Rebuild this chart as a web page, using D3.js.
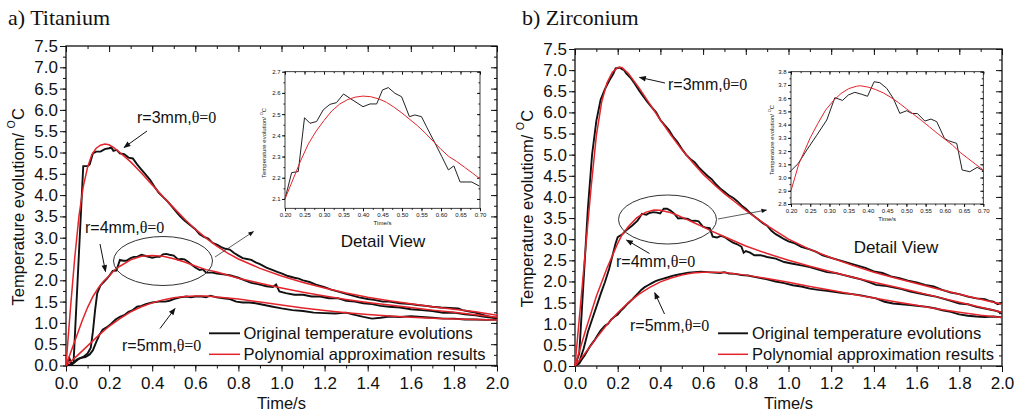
<!DOCTYPE html>
<html>
<head>
<meta charset="utf-8">
<script src="https://cdn.jsdelivr.net/npm/d3@7"></script>
<style>
  body { margin: 0; background: #fff; }
  svg { display: block; }
  text { font-family: "Liberation Sans", Arial, sans-serif; fill: #111; }
  .serif { font-family: "Liberation Serif", "Times New Roman", serif; }
</style>
</head>
<body>
<div id="chart"></div>
<script>
// ---- data: [time (s), temperature rise (degC)] ----
const tiBlack3 = [[0,0],[0.015,0.18],[0.027,0.02],[0.035,0.06],[0.08,4.68],[0.1,4.68],[0.11,4.72],[0.125,4.98],[0.14,5.02],[0.16,5.02],[0.18,5.08],[0.2,5.1],[0.21,5.12],[0.22,5.04],[0.235,5.06],[0.25,4.98],[0.27,4.96],[0.29,4.88],[0.31,4.86],[0.33,4.72],[0.35,4.6],[0.37,4.48],[0.39,4.36],[0.41,4.2],[0.43,4.06],[0.45,3.96],[0.47,3.86],[0.49,3.74],[0.51,3.62],[0.53,3.5],[0.55,3.4],[0.57,3.32],[0.6,3.2],[0.62,3.08],[0.64,3.02],[0.66,2.98],[0.68,2.88],[0.7,2.84],[0.72,2.78],[0.74,2.74],[0.76,2.72],[0.78,2.64],[0.8,2.58],[0.82,2.52],[0.84,2.5],[0.86,2.48],[0.88,2.42],[0.9,2.38],[0.93,2.3],[0.96,2.24],[0.98,2.2],[1.0,2.16],[1.03,2.1],[1.06,2.06],[1.08,2.04],[1.1,2.0],[1.13,1.96],[1.16,1.9],[1.2,1.84],[1.23,1.78],[1.26,1.74],[1.3,1.68],[1.33,1.64],[1.36,1.6],[1.4,1.56],[1.43,1.54],[1.47,1.5],[1.5,1.5],[1.55,1.46],[1.6,1.44],[1.63,1.42],[1.67,1.4],[1.7,1.38],[1.74,1.36],[1.78,1.35],[1.82,1.34],[1.84,1.3],[1.86,1.28],[1.9,1.24],[1.94,1.18],[1.97,1.14],[2.0,1.1]];
const tiRed3 = [[0,0],[0.02,1.3],[0.04,2.5],[0.06,3.5],[0.08,4.2],[0.1,4.65],[0.12,4.95],[0.14,5.1],[0.16,5.17],[0.18,5.2],[0.2,5.18],[0.22,5.12],[0.25,5.0],[0.3,4.78],[0.35,4.52],[0.4,4.24],[0.45,3.96],[0.5,3.7],[0.55,3.44],[0.6,3.2],[0.65,2.99],[0.7,2.8],[0.75,2.64],[0.8,2.5],[0.9,2.28],[1.0,2.1],[1.1,1.95],[1.2,1.82],[1.3,1.7],[1.4,1.6],[1.5,1.52],[1.6,1.45],[1.7,1.38],[1.8,1.32],[1.9,1.26],[2.0,1.18]];
const tiBlack4 = [[0,0],[0.02,0.02],[0.04,0.08],[0.06,0.16],[0.08,0.2],[0.1,0.28],[0.115,0.42],[0.125,0.8],[0.135,1.3],[0.145,1.7],[0.16,1.88],[0.175,1.96],[0.19,2.04],[0.2,2.1],[0.217,2.22],[0.234,2.23],[0.25,2.48],[0.265,2.46],[0.28,2.46],[0.3,2.52],[0.315,2.55],[0.33,2.55],[0.35,2.6],[0.37,2.57],[0.4,2.53],[0.42,2.55],[0.435,2.55],[0.45,2.61],[0.465,2.62],[0.48,2.6],[0.5,2.58],[0.52,2.49],[0.535,2.5],[0.55,2.49],[0.565,2.44],[0.585,2.36],[0.6,2.3],[0.62,2.24],[0.635,2.26],[0.65,2.18],[0.68,2.18],[0.7,2.16],[0.73,2.14],[0.76,2.12],[0.8,2.06],[0.83,2.0],[0.86,1.94],[0.9,1.9],[0.93,1.86],[0.96,1.84],[0.975,1.9],[0.99,1.74],[1.02,1.7],[1.06,1.66],[1.1,1.66],[1.14,1.62],[1.18,1.62],[1.22,1.58],[1.26,1.58],[1.3,1.52],[1.34,1.5],[1.38,1.46],[1.42,1.44],[1.46,1.4],[1.5,1.38],[1.55,1.36],[1.6,1.32],[1.65,1.3],[1.7,1.28],[1.75,1.24],[1.8,1.24],[1.85,1.2],[1.9,1.18],[1.95,1.14],[2.0,1.12]];
const tiRed4 = [[0,0],[0.025,0.35],[0.05,0.7],[0.075,1.05],[0.1,1.36],[0.125,1.62],[0.15,1.82],[0.175,1.98],[0.2,2.1],[0.225,2.24],[0.25,2.33],[0.3,2.48],[0.35,2.565],[0.4,2.585],[0.45,2.565],[0.5,2.505],[0.55,2.43],[0.6,2.334],[0.65,2.25],[0.7,2.195],[0.8,2.05],[0.9,1.93],[1.0,1.82],[1.1,1.72],[1.2,1.63],[1.3,1.55],[1.4,1.48],[1.5,1.42],[1.6,1.36],[1.7,1.3],[1.8,1.25],[1.9,1.19],[2.0,1.13]];
const tiBlack5 = [[0,0],[0.03,0.04],[0.05,0.14],[0.07,0.18],[0.09,0.2],[0.11,0.26],[0.125,0.36],[0.14,0.55],[0.155,0.72],[0.17,0.84],[0.19,0.9],[0.21,0.98],[0.23,1.08],[0.25,1.14],[0.27,1.18],[0.29,1.26],[0.31,1.3],[0.33,1.38],[0.35,1.4],[0.37,1.44],[0.4,1.48],[0.43,1.5],[0.46,1.5],[0.48,1.52],[0.5,1.56],[0.53,1.6],[0.56,1.62],[0.58,1.6],[0.6,1.62],[0.63,1.62],[0.65,1.6],[0.67,1.64],[0.7,1.6],[0.73,1.58],[0.76,1.56],[0.79,1.5],[0.82,1.48],[0.85,1.48],[0.88,1.46],[0.92,1.42],[0.96,1.38],[1.0,1.34],[1.05,1.3],[1.1,1.28],[1.15,1.24],[1.2,1.23],[1.25,1.22],[1.3,1.24],[1.33,1.2],[1.38,1.14],[1.42,1.1],[1.46,1.12],[1.5,1.15],[1.55,1.14],[1.6,1.16],[1.65,1.14],[1.7,1.12],[1.75,1.1],[1.8,1.1],[1.85,1.08],[1.9,1.08],[1.95,1.07],[2.0,1.08]];
const tiRed5 = [[0,0],[0.05,0.22],[0.1,0.46],[0.15,0.7],[0.2,0.92],[0.25,1.1],[0.3,1.26],[0.35,1.38],[0.4,1.47],[0.45,1.54],[0.5,1.59],[0.55,1.62],[0.6,1.63],[0.65,1.63],[0.7,1.61],[0.8,1.56],[0.9,1.49],[1.0,1.42],[1.1,1.35],[1.2,1.29],[1.3,1.24],[1.4,1.2],[1.5,1.16],[1.6,1.13],[1.7,1.11],[1.8,1.09],[1.9,1.08],[2.0,1.07]];

const zrBlack3 = [[0,0],[0.02,0.3],[0.04,2.0],[0.06,3.7],[0.08,5.0],[0.1,5.8],[0.12,6.3],[0.14,6.55],[0.16,6.75],[0.18,6.92],[0.19,7.04],[0.2,7.05],[0.21,7.06],[0.22,7.02],[0.23,7.0],[0.24,6.92],[0.26,6.82],[0.28,6.68],[0.3,6.52],[0.32,6.38],[0.34,6.24],[0.36,6.12],[0.38,6.0],[0.4,5.82],[0.42,5.7],[0.44,5.58],[0.46,5.42],[0.48,5.3],[0.5,5.14],[0.52,5.0],[0.54,4.9],[0.56,4.82],[0.58,4.7],[0.6,4.6],[0.62,4.5],[0.64,4.42],[0.66,4.3],[0.68,4.2],[0.7,4.12],[0.72,4.04],[0.74,3.98],[0.76,3.9],[0.78,3.8],[0.8,3.72],[0.82,3.62],[0.84,3.54],[0.86,3.46],[0.88,3.38],[0.9,3.32],[0.92,3.2],[0.94,3.12],[0.96,3.06],[0.98,3.0],[1.0,2.95],[1.03,2.9],[1.06,2.82],[1.1,2.76],[1.13,2.7],[1.16,2.62],[1.2,2.56],[1.24,2.5],[1.28,2.44],[1.32,2.38],[1.36,2.32],[1.4,2.24],[1.44,2.2],[1.48,2.12],[1.52,2.08],[1.56,2.02],[1.6,1.98],[1.64,1.92],[1.68,1.88],[1.72,1.8],[1.76,1.74],[1.8,1.7],[1.84,1.64],[1.88,1.6],[1.92,1.58],[1.94,1.54],[1.96,1.52],[1.98,1.46],[2.0,1.5]];
const zrRed3 = [[0,0],[0.025,1.4],[0.05,2.8],[0.075,4.2],[0.1,5.45],[0.125,6.25],[0.15,6.7],[0.175,6.95],[0.2,7.06],[0.22,7.06],[0.25,6.92],[0.3,6.58],[0.35,6.2],[0.4,5.82],[0.45,5.46],[0.5,5.12],[0.55,4.82],[0.6,4.54],[0.65,4.3],[0.7,4.08],[0.75,3.88],[0.8,3.68],[0.85,3.5],[0.9,3.32],[1.0,3.0],[1.1,2.76],[1.2,2.56],[1.3,2.38],[1.4,2.22],[1.5,2.08],[1.6,1.95],[1.7,1.82],[1.8,1.7],[1.9,1.58],[2.0,1.46]];
const zrBlack4 = [[0,0],[0.02,0.1],[0.04,0.4],[0.06,0.8],[0.08,1.1],[0.1,1.4],[0.12,1.7],[0.14,1.98],[0.16,2.3],[0.18,2.7],[0.19,2.9],[0.2,3.05],[0.22,3.11],[0.24,3.21],[0.267,3.32],[0.293,3.44],[0.314,3.6],[0.334,3.58],[0.349,3.62],[0.366,3.64],[0.384,3.63],[0.399,3.61],[0.416,3.72],[0.431,3.72],[0.449,3.67],[0.466,3.6],[0.483,3.49],[0.501,3.5],[0.514,3.49],[0.529,3.48],[0.548,3.43],[0.564,3.44],[0.579,3.42],[0.599,3.3],[0.609,3.28],[0.631,3.26],[0.645,3.06],[0.665,3.04],[0.684,3.08],[0.7,3.05],[0.72,2.98],[0.74,2.92],[0.76,2.88],[0.78,2.82],[0.79,2.68],[0.8,2.72],[0.82,2.68],[0.84,2.62],[0.87,2.62],[0.9,2.58],[0.94,2.54],[0.98,2.46],[1.02,2.42],[1.06,2.38],[1.1,2.34],[1.14,2.28],[1.18,2.22],[1.22,2.2],[1.26,2.15],[1.3,2.1],[1.34,2.05],[1.38,1.98],[1.41,1.92],[1.45,1.9],[1.49,1.86],[1.53,1.82],[1.57,1.76],[1.61,1.72],[1.65,1.68],[1.69,1.64],[1.72,1.6],[1.76,1.54],[1.8,1.48],[1.84,1.46],[1.88,1.4],[1.92,1.36],[1.96,1.32],[2.0,1.26]];
const zrRed4 = [[0,0],[0.05,0.85],[0.1,1.65],[0.15,2.32],[0.2,2.9],[0.22,3.1],[0.25,3.3],[0.29,3.51],[0.33,3.635],[0.37,3.69],[0.4,3.684],[0.44,3.64],[0.48,3.565],[0.52,3.475],[0.56,3.383],[0.6,3.29],[0.64,3.19],[0.7,3.057],[0.8,2.84],[0.9,2.66],[1.0,2.5],[1.1,2.36],[1.2,2.23],[1.3,2.1],[1.4,1.98],[1.5,1.87],[1.6,1.75],[1.7,1.63],[1.8,1.51],[1.9,1.39],[2.0,1.27]];
const zrBlack5 = [[0,0],[0.02,0.06],[0.03,0.14],[0.045,0.25],[0.06,0.38],[0.075,0.5],[0.09,0.6],[0.105,0.72],[0.12,0.84],[0.14,0.95],[0.155,1.0],[0.17,1.1],[0.186,1.17],[0.2,1.22],[0.217,1.32],[0.23,1.38],[0.248,1.48],[0.265,1.56],[0.28,1.64],[0.295,1.72],[0.31,1.8],[0.325,1.86],[0.342,1.91],[0.36,1.96],[0.375,2.0],[0.39,2.03],[0.41,2.06],[0.436,2.1],[0.46,2.14],[0.48,2.16],[0.5,2.18],[0.53,2.21],[0.56,2.22],[0.59,2.23],[0.62,2.22],[0.65,2.21],[0.68,2.2],[0.7,2.22],[0.72,2.19],[0.75,2.18],[0.78,2.15],[0.81,2.14],[0.84,2.11],[0.87,2.08],[0.9,2.05],[0.94,2.0],[0.98,1.96],[1.02,1.91],[1.06,1.88],[1.1,1.83],[1.14,1.8],[1.18,1.78],[1.22,1.75],[1.26,1.72],[1.3,1.7],[1.34,1.67],[1.38,1.63],[1.41,1.6],[1.45,1.52],[1.49,1.48],[1.53,1.46],[1.57,1.44],[1.61,1.42],[1.65,1.4],[1.69,1.36],[1.72,1.32],[1.76,1.28],[1.8,1.22],[1.84,1.19],[1.88,1.17],[1.92,1.16],[1.96,1.17],[2.0,1.15]];
const zrRed5 = [[0,0],[0.05,0.32],[0.1,0.66],[0.15,0.98],[0.2,1.26],[0.25,1.5],[0.3,1.7],[0.35,1.86],[0.4,1.99],[0.45,2.08],[0.5,2.15],[0.55,2.2],[0.6,2.22],[0.65,2.22],[0.7,2.21],[0.8,2.15],[0.9,2.07],[1.0,1.98],[1.1,1.88],[1.2,1.79],[1.3,1.7],[1.4,1.61],[1.5,1.52],[1.6,1.44],[1.7,1.35],[1.8,1.27],[1.9,1.2],[2.0,1.15]];

// detail view (r=4mm, 0.2-0.7 s)
const tiDetailBlack = [[0.2,2.1],[0.217,2.224],[0.234,2.229],[0.25,2.483],[0.264,2.457],[0.281,2.465],[0.298,2.52],[0.315,2.546],[0.332,2.554],[0.35,2.595],[0.367,2.574],[0.4,2.535],[0.418,2.548],[0.435,2.548],[0.45,2.614],[0.465,2.625],[0.482,2.598],[0.499,2.582],[0.519,2.488],[0.533,2.496],[0.55,2.488],[0.563,2.44],[0.585,2.362],[0.602,2.3],[0.619,2.237],[0.633,2.256],[0.649,2.18],[0.679,2.18],[0.698,2.161]];
const tiDetailRed = [[0.2,2.1],[0.22,2.19],[0.24,2.28],[0.26,2.36],[0.28,2.42],[0.3,2.47],[0.32,2.515],[0.34,2.547],[0.36,2.568],[0.38,2.58],[0.4,2.585],[0.42,2.582],[0.44,2.572],[0.46,2.556],[0.48,2.532],[0.5,2.505],[0.52,2.475],[0.54,2.445],[0.56,2.41],[0.58,2.372],[0.6,2.334],[0.62,2.3],[0.64,2.277],[0.66,2.25],[0.68,2.223],[0.7,2.195]];
const zrDetailBlack = [[0.2,3.052],[0.219,3.107],[0.241,3.208],[0.267,3.32],[0.293,3.435],[0.314,3.604],[0.334,3.583],[0.349,3.624],[0.366,3.644],[0.384,3.629],[0.399,3.614],[0.416,3.724],[0.431,3.717],[0.449,3.674],[0.466,3.598],[0.483,3.485],[0.501,3.505],[0.514,3.485],[0.529,3.483],[0.548,3.427],[0.564,3.442],[0.579,3.422],[0.599,3.296],[0.609,3.279],[0.631,3.258],[0.645,3.057],[0.665,3.044],[0.684,3.077],[0.7,3.052]];
const zrDetailRed = [[0.2,2.9],[0.21,3.0],[0.22,3.1],[0.235,3.2],[0.25,3.3],[0.27,3.41],[0.29,3.51],[0.31,3.58],[0.33,3.635],[0.35,3.672],[0.37,3.69],[0.38,3.694],[0.4,3.684],[0.42,3.665],[0.44,3.64],[0.46,3.605],[0.48,3.565],[0.5,3.52],[0.52,3.475],[0.54,3.43],[0.56,3.383],[0.58,3.335],[0.6,3.29],[0.62,3.245],[0.64,3.19],[0.66,3.145],[0.68,3.1],[0.7,3.057]];

// ticks
const xTicks = d3.range(0, 2.01, 0.2);
const xMinor = d3.range(0, 2.01, 0.1);
const yTicks = d3.range(0, 7.51, 0.5);
const yMinor = d3.range(0, 7.51, 0.25);
const detailXTicks = d3.range(0.2, 0.701, 0.05);
const detailXMinor = d3.range(0.2, 0.701, 0.025);
const tiDetailYTicks = [2.1, 2.2, 2.3, 2.4, 2.5, 2.6, 2.7];
const zrDetailYTicks = [2.8, 2.9, 3.0, 3.1, 3.2, 3.3, 3.4, 3.5, 3.6, 3.7, 3.8];

const legendLabels = ['Original temperature evolutions', 'Polynomial approximation results'];
const BLACK = '#111';
const RED = '#e3242b';

const svg = d3.select('#chart')
  .append('svg')
  .attr('width', 1017)
  .attr('height', 411);

svg.append('defs').append('marker')
  .attr('id', 'arrow')
  .attr('viewBox', '0 0 10 10')
  .attr('refX', 9)
  .attr('refY', 5)
  .attr('markerWidth', 8)
  .attr('markerHeight', 7)
  .attr('orient', 'auto')
  .append('path')
  .attr('d', 'M0,1 L10,5 L0,9 z')
  .attr('fill', '#111');

const panels = [
  {
    title: 'a) Titanium', tx: 8, yTitle: 'Temperature evolutiom/ ',
    x0: 66, x1: 497, y0: 46, y1: 365.5, ytx: 18,
    black: [tiBlack3, tiBlack4, tiBlack5], red: [tiRed3, tiRed4, tiRed5],
    labels: [
      { r: 'r=3mm,', x: 137, y: 123, a: [147, 131, 124, 147.5] },
      { r: 'r=4mm,', x: 85, y: 233, a: [100, 244, 105.5, 271.5] },
      { r: 'r=5mm,', x: 122, y: 350.5, a: [160, 328.5, 175, 308.5] },
    ],
    ellipse: { cx: 163, cy: 261, rx: 49.5, ry: 24.5, a: [215, 257, 253.5, 231.5] },
    legend: { x0: 209, x1: 240, tx: 243.5 },
    detail: {
      x0: 285, x1: 480, y0: 71.7, y1: 208.3, ymin: 2.056, ymax: 2.7,
      yTicks: tiDetailYTicks, black: tiDetailBlack, red: tiDetailRed,
      xlY: 225, ytx: 263.5, yty: 143, dvx: 383, dvy: 247,
    },
  },
  {
    title: 'b) Zirconium', tx: 522, yTitle: 'Temperature evolutiom/ ',
    x0: 575, x1: 1002, y0: 49, y1: 366, ytx: 527,
    black: [zrBlack3, zrBlack4, zrBlack5], red: [zrRed3, zrRed4, zrRed5],
    labels: [
      { r: 'r=3mm,', x: 668, y: 90, a: [665, 83, 639.5, 77.3] },
      { r: 'r=4mm,', x: 616, y: 266.5, a: [649.5, 253.5, 626.5, 240] },
      { r: 'r=5mm,', x: 630, y: 330.5, a: [664.5, 314, 654.7, 292.7] },
    ],
    ellipse: { cx: 667.5, cy: 219.5, rx: 49, ry: 24.5, a: [718, 219, 766.5, 210] },
    legend: { x0: 718, x1: 748, tx: 752 },
    detail: {
      x0: 791, x1: 983.3, y0: 71.7, y1: 204, ymin: 2.8, ymax: 3.8,
      yTicks: zrDetailYTicks, black: zrDetailBlack, red: zrDetailRed,
      xlY: 220.5, ytx: 771.5, yty: 140, dvx: 896, dvy: 253,
    },
  },
];

function styleAxis(g, fontSize) {
  g.select('.domain').remove();
  g.selectAll('.tick line').attr('stroke', '#111').attr('stroke-width', 1);
  g.selectAll('.tick text')
    .attr('fill', '#111')
    .style('font-size', `${fontSize}px`)
    .style('font-family', '"Liberation Sans", Arial, sans-serif');
}

function frame(g, x, y, opts) {
  const { major, minor, yMajor, yMinorTicks, xFmt, yFmt, size, font, xPad, yPad } = opts;
  const [xa, xb] = x.range();
  const [ya, yb] = y.range();
  // bottom (outward) + minor
  g.append('g').attr('transform', `translate(0,${ya})`)
    .call(d3.axisBottom(x).tickValues(minor).tickSize(size / 2).tickFormat(''))
    .call((s) => styleAxis(s, font));
  g.append('g').attr('transform', `translate(0,${ya})`)
    .call(d3.axisBottom(x).tickValues(major).tickSize(size).tickPadding(xPad).tickFormat(xFmt))
    .call((s) => styleAxis(s, font));
  // left (outward)
  g.append('g').attr('transform', `translate(${xa},0)`)
    .call(d3.axisLeft(y).tickValues(yMinorTicks).tickSize(size / 2).tickFormat(''))
    .call((s) => styleAxis(s, font));
  g.append('g').attr('transform', `translate(${xa},0)`)
    .call(d3.axisLeft(y).tickValues(yMajor).tickSize(size).tickPadding(yPad).tickFormat(yFmt))
    .call((s) => styleAxis(s, font));
  // top and right mirror ticks, pointing in
  [[minor, size / 2], [major, size]].forEach(([v, s]) => {
    g.append('g').attr('transform', `translate(0,${yb})`)
      .call(d3.axisTop(x).tickValues(v).tickSize(-s).tickFormat(''))
      .call((sel) => styleAxis(sel, font));
  });
  [[yMinorTicks, size / 2], [yMajor, size]].forEach(([v, s]) => {
    g.append('g').attr('transform', `translate(${xb},0)`)
      .call(d3.axisRight(y).tickValues(v).tickSize(-s).tickFormat(''))
      .call((sel) => styleAxis(sel, font));
  });
  g.append('rect')
    .attr('x', xa).attr('y', yb)
    .attr('width', xb - xa).attr('height', ya - yb)
    .attr('fill', 'none').attr('stroke', '#111').attr('stroke-width', opts.frameW);
}

function yTitle(g, cx, cy, label, size) {
  const t = g.append('text')
    .attr('transform', `translate(${cx},${cy}) rotate(-90)`)
    .attr('text-anchor', 'middle')
    .attr('dominant-baseline', 'central')
    .style('font-size', `${size}px`);
  t.append('tspan').text(label);
  t.append('tspan').attr('dy', -size * 0.4).style('font-size', `${size * 0.65}px`).text('O');
  t.append('tspan').attr('dy', size * 0.4).text('C');
}

function drawPanel(p) {
  const g = svg.append('g');
  const x = d3.scaleLinear().domain([0, 2]).range([p.x0, p.x1]);
  const y = d3.scaleLinear().domain([0, 7.5]).range([p.y1, p.y0]);

  g.append('text').attr('class', 'serif')
    .attr('x', p.tx).attr('y', 25)
    .style('font-size', '22px')
    .text(p.title);

  frame(g, x, y, {
    major: xTicks, minor: xMinor, yMajor: yTicks, yMinorTicks: yMinor,
    xFmt: d3.format('.1f'), yFmt: d3.format('.1f'),
    size: 6, font: 17, xPad: 5, yPad: 2, frameW: 1.3,
  });

  g.append('text')
    .attr('x', (p.x0 + p.x1) / 2).attr('y', 409)
    .attr('text-anchor', 'middle')
    .style('font-size', '16.5px')
    .text('Time/s');
  yTitle(g, p.ytx, (p.y0 + p.y1) / 2 + 1, p.yTitle, 16.5);

  const line = d3.line().x((d) => x(d[0])).y((d) => y(d[1]));
  p.black.forEach((s) => {
    g.append('path').attr('d', line(s))
      .attr('fill', 'none').attr('stroke', BLACK).attr('stroke-width', 1.9);
  });
  p.red.forEach((s) => {
    g.append('path').attr('d', line(s))
      .attr('fill', 'none').attr('stroke', RED).attr('stroke-width', 1.5);
  });

  // annotations
  p.labels.forEach((l) => {
    const t = g.append('text').attr('x', l.x).attr('y', l.y).style('font-size', '16px');
    t.append('tspan').text(l.r);
    t.append('tspan').attr('class', 'serif').style('font-size', '16px').text('θ=0');
    g.append('line')
      .attr('x1', l.a[0]).attr('y1', l.a[1]).attr('x2', l.a[2]).attr('y2', l.a[3])
      .attr('stroke', '#111').attr('stroke-width', 1)
      .attr('marker-end', 'url(#arrow)');
  });
  const e = p.ellipse;
  g.append('ellipse')
    .attr('cx', e.cx).attr('cy', e.cy).attr('rx', e.rx).attr('ry', e.ry)
    .attr('fill', 'none').attr('stroke', '#333').attr('stroke-width', 1);
  g.append('line')
    .attr('x1', e.a[0]).attr('y1', e.a[1]).attr('x2', e.a[2]).attr('y2', e.a[3])
    .attr('stroke', '#333').attr('stroke-width', 0.8)
    .attr('marker-end', 'url(#arrow)');

  // legend
  const lg = p.legend;
  [BLACK, RED].forEach((c, i) => {
    const ly = 333.3 + i * 21;
    g.append('line')
      .attr('x1', lg.x0).attr('x2', lg.x1).attr('y1', ly).attr('y2', ly)
      .attr('stroke', c).attr('stroke-width', i ? 1.5 : 1.9);
    g.append('text')
      .attr('x', lg.tx).attr('y', ly + 6)
      .style('font-size', '16.5px')
      .text(legendLabels[i]);
  });

  drawDetail(p.detail);
}

function drawDetail(d) {
  const g = svg.append('g');
  const x = d3.scaleLinear().domain([0.2, 0.7]).range([d.x0, d.x1]);
  const y = d3.scaleLinear().domain([d.ymin, d.ymax]).range([d.y1, d.y0]);
  const yMinorD = d3.range(d.yTicks[0] - 0.05, d.ymax + 0.001, 0.05).filter((v) => v >= d.ymin);

  frame(g, x, y, {
    major: detailXTicks, minor: detailXMinor, yMajor: d.yTicks, yMinorTicks: yMinorD,
    xFmt: d3.format('.2f'), yFmt: d3.format('.1f'),
    size: 3, font: 6, xPad: 1.5, yPad: 1.5, frameW: 0.8,
  });

  g.append('text')
    .attr('x', (d.x0 + d.x1) / 2).attr('y', d.xlY)
    .attr('text-anchor', 'middle')
    .style('font-size', '6px')
    .text('Time/s');
  yTitle(g, d.ytx, d.yty, 'Temperature evolution/ ', 6);

  const line = d3.line().x((v) => x(v[0])).y((v) => y(v[1]));
  g.append('path').attr('d', line(d.black))
    .attr('fill', 'none').attr('stroke', '#222').attr('stroke-width', 1);
  g.append('path').attr('d', line(d.red))
    .attr('fill', 'none').attr('stroke', RED).attr('stroke-width', 1);

  svg.append('text')
    .attr('x', d.dvx).attr('y', d.dvy)
    .attr('text-anchor', 'middle')
    .style('font-size', '17px')
    .text('Detail View');
}

panels.forEach(drawPanel);
</script>
</body>
</html>
